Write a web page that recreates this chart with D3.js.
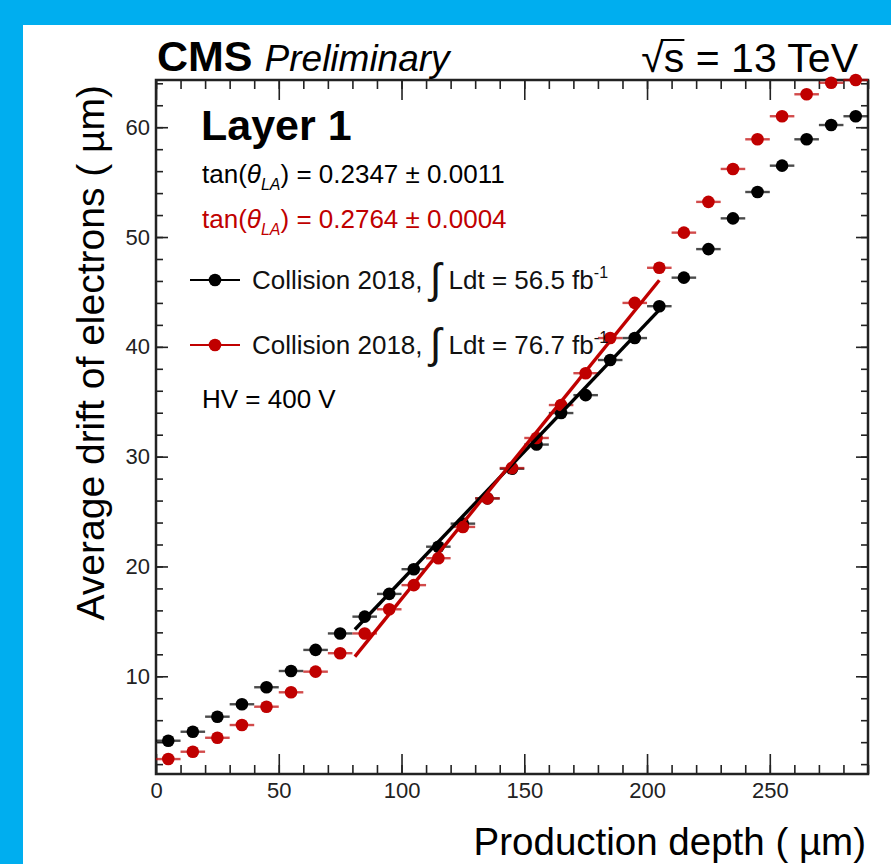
<!DOCTYPE html>
<html lang="en">
<head>
  <meta charset="UTF-8">
  <title>Layer 1 drift vs production depth</title>
  <script src="https://d3js.org/d3.v7.min.js"></script>
  <style>
    body { margin: 0; padding: 0; background: #00aeef; }
    svg { display: block; }
    text { font-family: "Liberation Sans", Arial, Helvetica, sans-serif; }
    .tick text { font-size: 22px; fill: #222; }
    .tick line { stroke: #222; stroke-width: 1.6px; }
  </style>
</head>
<body>
  <svg id="chart"></svg>

  <script>
    // bin centres (production depth, um)
    const depth = [5, 15, 25, 35, 45, 55, 65, 75, 85, 95, 105, 115, 125, 135, 145,
                   155, 165, 175, 185, 195, 205, 215, 225, 235, 245, 255, 265, 275, 285];
    const binHalf = 5;

    // average drift, 56.5 fb-1
    const driftA = [4.13, 4.95, 6.32, 7.45, 9.0, 10.48, 12.4, 13.9, 15.43, 17.5, 19.75, 21.8, 23.9, 26.2, 28.9,
                    31.1, 33.97, 35.6, 38.8, 40.8, 43.7, 46.3, 48.9, 51.7, 54.1, 56.5, 58.9, 60.2, 61.0];
    // average drift, 76.7 fb-1
    const driftB = [2.46, 3.13, 4.4, 5.56, 7.23, 8.54, 10.42, 12.1, 13.9, 16.1, 18.3, 20.75, 23.6, 26.2, 28.96,
                    31.7, 34.7, 37.6, 40.8, 44.0, 47.2, 50.4, 53.2, 56.2, 58.9, 61.0, 63.0, 64.05, 64.3];

    // linear fits: slope = tan(theta_LA)
    const fitRange = [81, 205];
    const fitA = { slope: 0.2347, err: 0.0011, icpt: -4.75 };
    const fitB = { slope: 0.2764, err: 0.0004, icpt: -10.6 };

    const xTicks = [0, 50, 100, 150, 200, 250];
    const yTicks = [10, 20, 30, 40, 50, 60];

    const W = 891, H = 864;
    const frame = { left: 156, right: 868, top: 80, bottom: 774 };
    const RED = '#c00000', BLACK = '#000';

    const svg = d3.select('#chart').attr('width', W).attr('height', H);

    // blue surround + white pad
    svg.append('rect').attr('width', W).attr('height', H).attr('fill', '#00aeef');
    svg.append('rect').attr('x', 23).attr('y', 25).attr('width', W - 23).attr('height', H - 25).attr('fill', '#fff');

    const x = d3.scaleLinear().domain([0, 290]).range([frame.left, frame.right]);
    const y = d3.scaleLinear().domain([1.1, 64.3]).range([frame.bottom, frame.top]);

    const minorX = d3.range(0, 291, 10);
    const minorY = d3.range(2, 65, 2);

    function axis(gen, tx, ty, vals, size, labels, pad) {
      const g = svg.append('g').attr('transform', `translate(${tx},${ty})`)
        .call(gen.tickValues(vals).tickSize(size).tickPadding(pad || 6)
          .tickFormat(labels ? d3.format('d') : ''));
      g.select('.domain').remove();
      return g;
    }

    // ticks point inward, ROOT style
    axis(d3.axisBottom(x), 0, frame.bottom, minorX, -9, false);
    axis(d3.axisBottom(x), 0, frame.bottom, xTicks, -20, true, 8);
    axis(d3.axisTop(x), 0, frame.top, minorX, -9, false);
    axis(d3.axisTop(x), 0, frame.top, xTicks, -20, false);
    axis(d3.axisLeft(y), frame.left, 0, minorY, -7, false);
    axis(d3.axisLeft(y), frame.left, 0, yTicks, -12, true, 6);
    axis(d3.axisRight(y), frame.right, 0, minorY, -7, false);
    axis(d3.axisRight(y), frame.right, 0, yTicks, -12, false);

    svg.append('rect')
      .attr('x', frame.left).attr('y', frame.top)
      .attr('width', frame.right - frame.left).attr('height', frame.bottom - frame.top)
      .attr('fill', 'none').attr('stroke', '#222').attr('stroke-width', 2.5);

    // fit lines
    function drawFit(f, col) {
      svg.append('line')
        .attr('x1', x(fitRange[0])).attr('y1', y(f.slope * fitRange[0] + f.icpt))
        .attr('x2', x(fitRange[1])).attr('y2', y(f.slope * fitRange[1] + f.icpt))
        .attr('stroke', col).attr('stroke-width', 3.4);
    }

    function drawPoints(vals, col) {
      const g = svg.append('g');
      const pts = depth.map((d, i) => ({ d, v: vals[i] }));
      g.selectAll('line').data(pts).enter().append('line')
        .attr('x1', p => x(p.d - binHalf)).attr('x2', p => x(p.d + binHalf))
        .attr('y1', p => y(p.v)).attr('y2', p => y(p.v))
        .attr('stroke', col).attr('stroke-width', 2.4).attr('opacity', 0.7);
      g.selectAll('circle').data(pts).enter().append('circle')
        .attr('cx', p => x(p.d)).attr('cy', p => y(p.v)).attr('r', 6.3)
        .attr('fill', col);
    }

    drawPoints(driftA, BLACK);
    drawPoints(driftB, RED);
    drawFit(fitA, BLACK);
    drawFit(fitB, RED);

    // header texts
    const head = svg.append('text').attr('x', 157).attr('y', 71);
    head.append('tspan').attr('font-weight', 'bold').attr('font-size', 43).text('CMS');
    head.append('tspan').attr('dx', 12).attr('font-style', 'italic').attr('font-size', 37).text('Preliminary');

    const energy = svg.append('text').attr('x', 858).attr('y', 72).attr('text-anchor', 'end')
      .attr('font-size', 41).text('\u221As = 13 TeV');
    // overbar of the square root
    const rootBox = energy.node().getExtentOfChar(0);
    const sBox = energy.node().getExtentOfChar(1);
    svg.append('line')
      .attr('x1', rootBox.x + rootBox.width - 3).attr('x2', sBox.x + sBox.width)
      .attr('y1', 40).attr('y2', 40).attr('stroke', '#000').attr('stroke-width', 2);

    // axis titles
    svg.append('text').attr('x', 866).attr('y', 855).attr('text-anchor', 'end')
      .attr('font-size', 38.5).text('Production depth ( \u00B5m)');
    svg.append('text').attr('transform', 'translate(104,85) rotate(-90)')
      .attr('text-anchor', 'end').attr('font-size', 39).text('Average drift of electrons ( \u00B5m)');

    // labels inside the frame
    svg.append('text').attr('x', 201).attr('y', 140).attr('font-size', 43)
      .attr('font-weight', 'bold').text('Layer 1');

    function tanLabel(f, yy, col) {
      const t = svg.append('text').attr('x', 202).attr('y', yy).attr('font-size', 26).attr('fill', col);
      t.append('tspan').text('tan(');
      t.append('tspan').attr('font-style', 'italic').text('\u03B8');
      t.append('tspan').attr('font-style', 'italic').attr('font-size', 16).attr('dy', 7).text('LA');
      t.append('tspan').attr('dy', -7).text(`) = ${f.slope.toFixed(4)} \u00B1 ${f.err.toFixed(4)}`);
    }
    tanLabel(fitA, 183, BLACK);
    tanLabel(fitB, 228, RED);

    function legendRow(yy, col, lumi) {
      svg.append('line').attr('x1', 190).attr('x2', 240).attr('y1', yy).attr('y2', yy)
        .attr('stroke', col).attr('stroke-width', 2.2);
      svg.append('circle').attr('cx', 215).attr('cy', yy).attr('r', 6.3).attr('fill', col);
      const t = svg.append('text').attr('x', 252).attr('y', yy + 9).attr('font-size', 26).attr('fill', '#111');
      t.append('tspan').text('Collision 2018, ');
      t.append('tspan').attr('font-size', 42).attr('dy', 4).text('\u222B');
      t.append('tspan').attr('dy', -4).text(` Ldt = ${lumi} fb`);
      t.append('tspan').attr('font-size', 16).attr('dy', -11).text('-1');
    }
    legendRow(280, BLACK, '56.5');
    legendRow(345, RED, '76.7');

    svg.append('text').attr('x', 202).attr('y', 408).attr('font-size', 26).text('HV = 400 V');
  </script>
</body>
</html>
